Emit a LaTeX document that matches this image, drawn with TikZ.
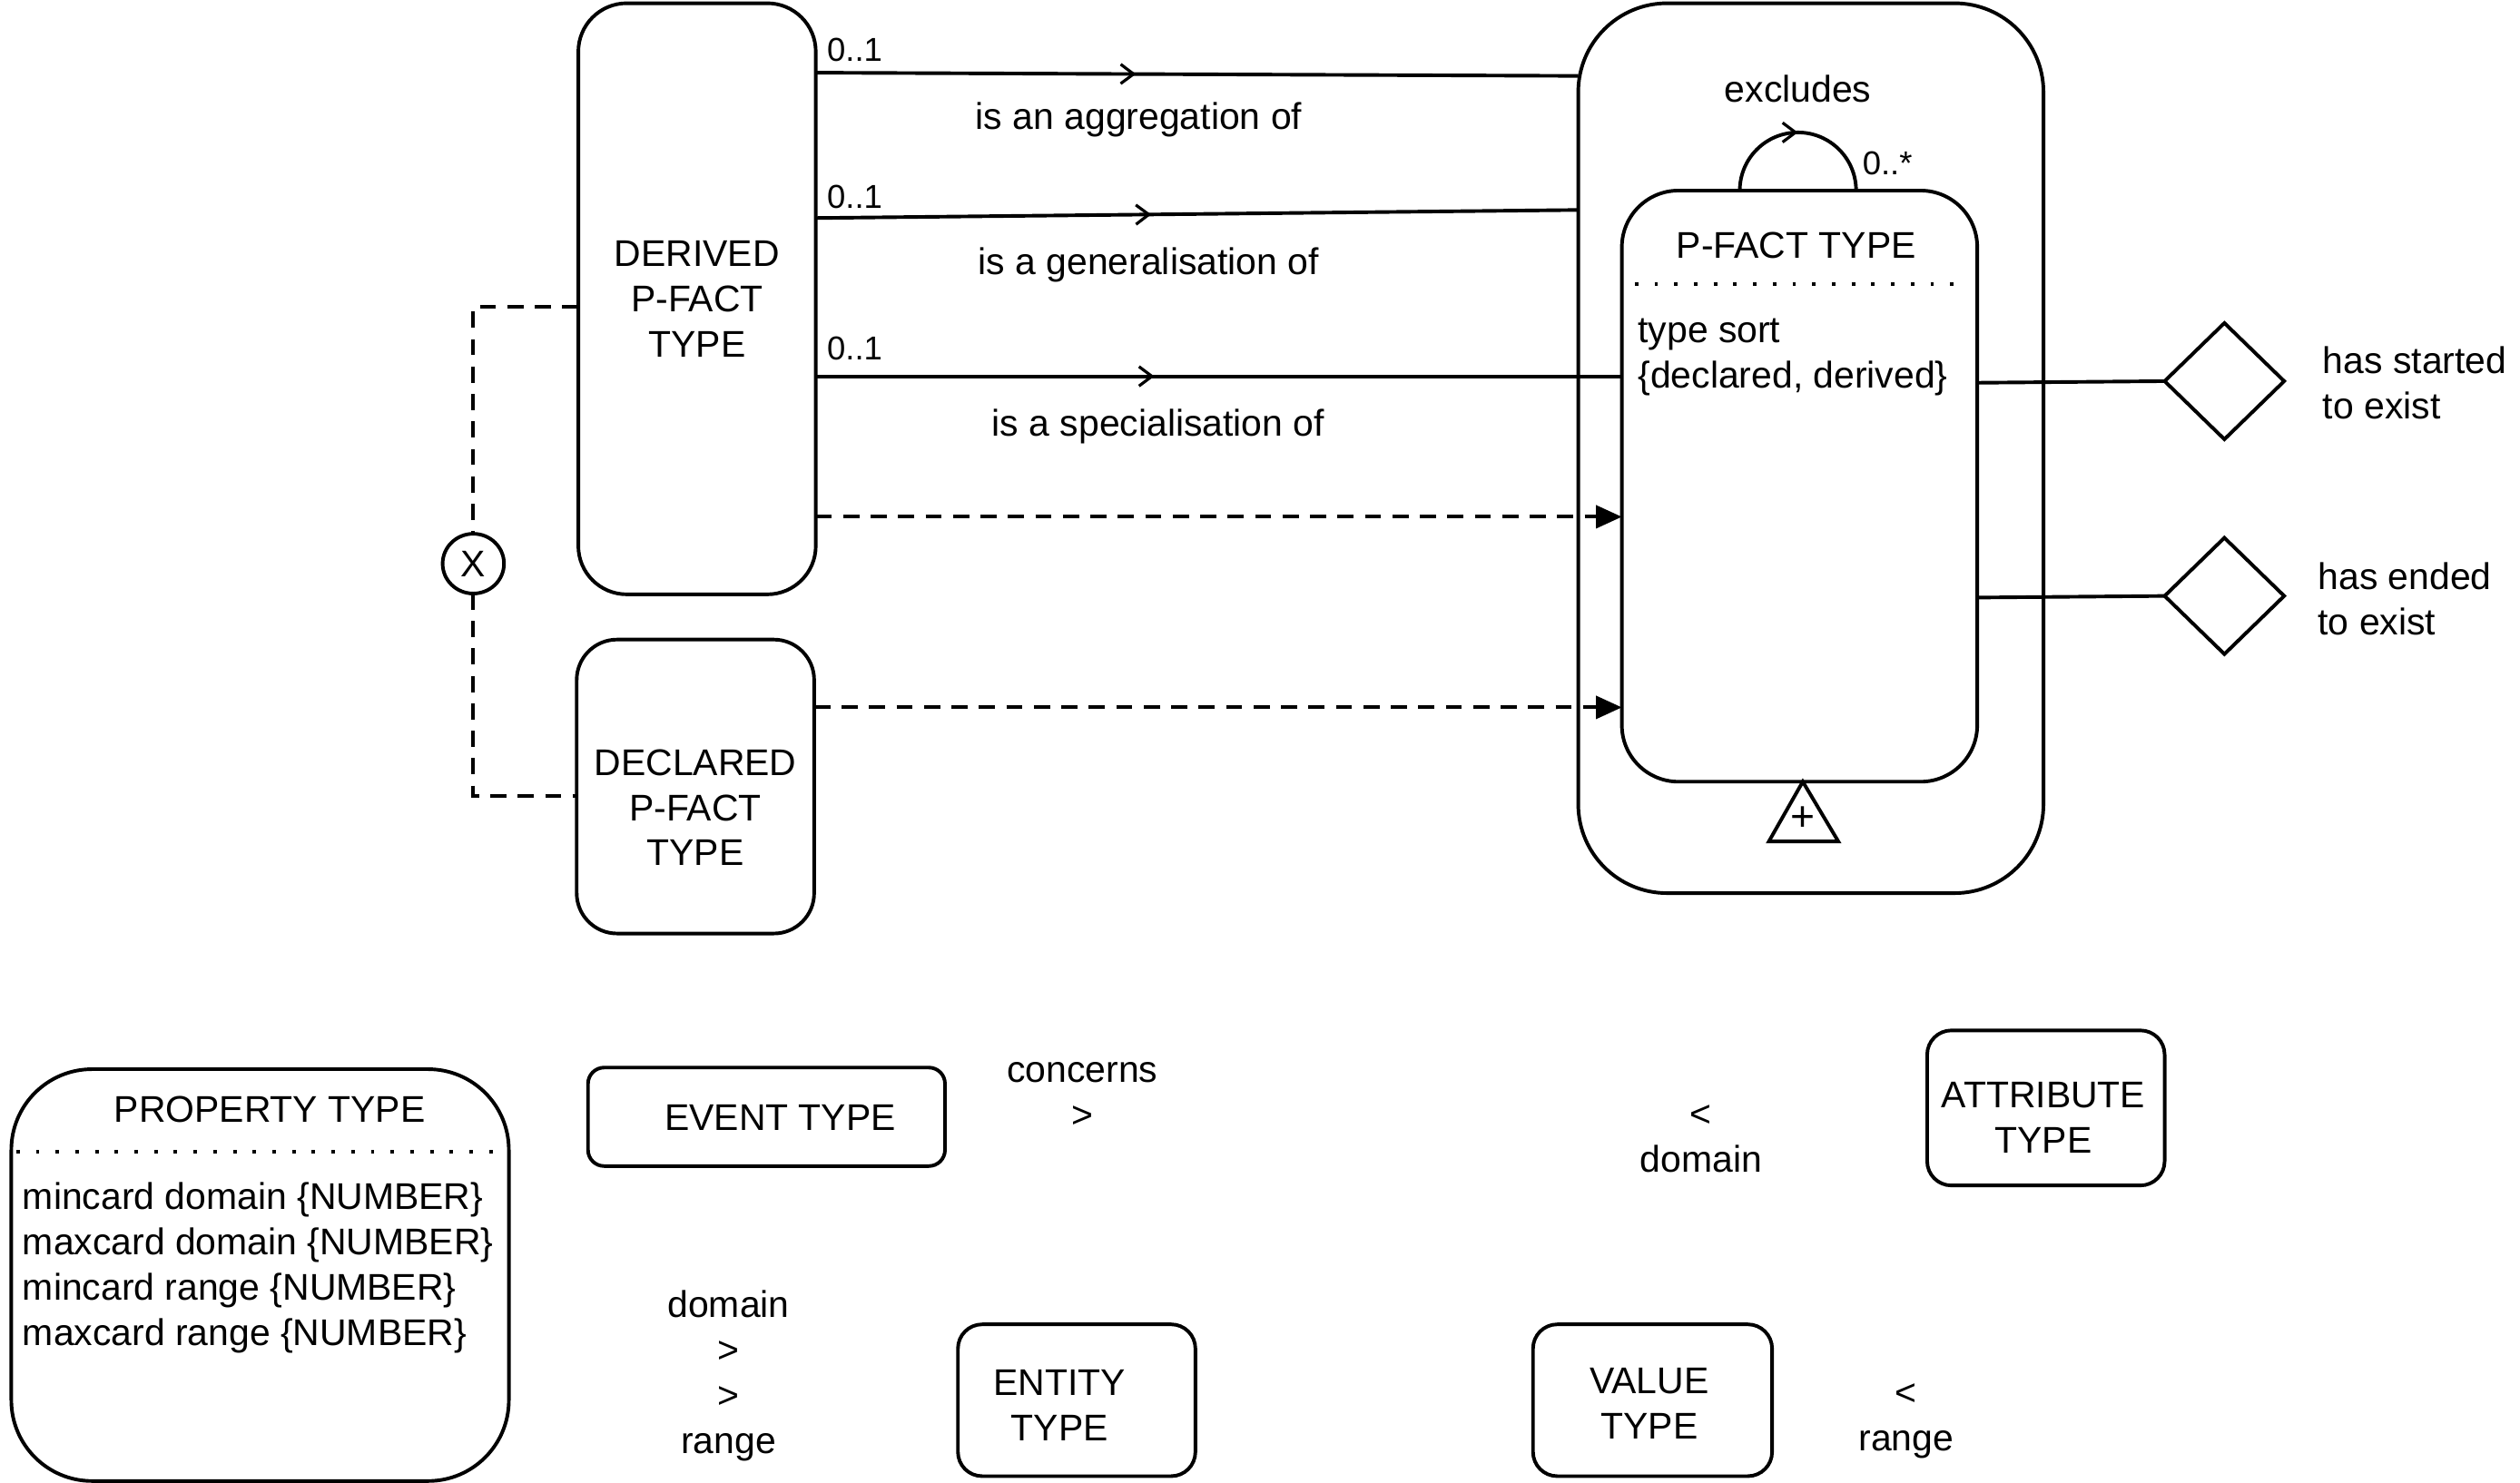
\documentclass[tikz,border=0pt]{standalone}
\usepackage{fontspec}
\setmainfont{Liberation Sans}
\usetikzlibrary{shapes.geometric,arrows.meta,decorations.markings}
\newcommand{\fbig}{\fontsize{23}{28}\selectfont}
\newcommand{\fsmall}{\fontsize{20.5}{24}\selectfont}
\begin{document}
\begin{tikzpicture}[x=1pt,y=-1pt,
 every node/.style={inner sep=0pt, outer sep=0pt},
 box/.style={draw, line width=2.2pt, font=\fbig, align=center},
 txt/.style={font=\fbig, align=center},
 sml/.style={font=\fsmall},
 conn/.style={line width=2.2pt},
 dsh/.style={line width=2.2pt, dash pattern=on 10pt off 7pt},
 chev/.style={decoration={markings, mark=at position #1 with {\arrow{Straight Barb[length=8pt,width=12pt,line width=1.8pt]}}}, postaction={decorate}},
 dia/.style={draw, diamond, line width=2.2pt, minimum width=74pt, minimum height=72pt},
 dots/.style={line width=2.2pt, dash pattern=on 2.2pt off 10pt},
]
\useasboundingbox (0,0) rectangle (1560,918);

% top-left boxes
\node[box, rounded corners=30pt, minimum width=147pt, minimum height=366pt] (der) at (431.5,185) {DERIVED\\P-FACT\\TYPE};
\node[box, rounded corners=25pt, minimum width=147pt, minimum height=182pt] (dec) at (430.5,487) {};
\node[txt] (dect) at (430.5,500) {DECLARED\\P-FACT\\TYPE};
\node[draw, ellipse, line width=2.2pt, minimum width=38pt, minimum height=37pt, font=\fbig] (xc) at (293,349) {X};

\draw[dsh] ([yshift=-5pt]der.west) -| (xc.north);
\draw[dsh] (xc.south) |- ([yshift=-6pt]dec.west);

% P-FACT TYPE
\node[box, rounded corners=55pt, minimum width=288pt, minimum height=551pt] (outer) at (1121,277.5) {};
\node[box, rounded corners=35pt, minimum width=220pt, minimum height=366pt] (pin) at (1114,301) {};
\node[txt] (pint) at (1112,152) {P-FACT TYPE};
\draw[dots] (1012,176) -- (1218,176);
\node[txt, align=left, anchor=west] (pina) at (1014,221) {type sort\\\{declared, derived\}};

\draw[conn, chev=0.5] ([xshift=-37pt]pin.north) arc[start angle=180, end angle=0, radius=36pt];
\node[txt] (excl) at (1113,55) {excludes};
\node[sml, anchor=west] (card4) at (1153,101) {0..*};

\draw[line width=2.2pt] (1116,484) -- (1138,521) -- (1095,521) -- cycle;
\node[txt, font=\fontsize{26}{28}\selectfont] (plus) at (1116,507) {+};

% relations
\draw[conn, chev=0.42] ([yshift=-43pt]der.north east) -- ([yshift=-45pt]outer.north west);
\draw[conn, chev=0.44] ([yshift=-133pt]der.north east) -- ([yshift=-128pt]outer.north west);
\draw[conn, chev=0.42] ([yshift=-231pt]der.north east) -- ([yshift=-115pt]pin.north west);
\node[sml, anchor=west] (c1) at (512,31) {0..1};
\node[sml, anchor=west] (c2) at (512,122) {0..1};
\node[sml, anchor=west] (c3) at (512,216) {0..1};
\node[txt] (l1) at (705,74) {is an aggregation of};
\node[txt] (l2) at (711,164) {is a generalisation of};
\node[txt] (l3) at (717,264) {is a specialisation of};

\draw[dsh, -{Triangle[length=16pt,width=14pt]}] ([yshift=-318pt]der.north east) -- ([yshift=-202pt]pin.north west);
\draw[dsh, -{Triangle[length=16pt,width=14pt]}] ([yshift=-42pt]dec.north east) -- ([yshift=-320pt]pin.north west);

% diamonds
\node[dia] (ds) at (1377,236) {};
\node[dia] (de) at (1377,369) {};
\draw[conn] ([yshift=-119pt]pin.north east) -- (ds.west);
\draw[conn] ([yshift=-252pt]pin.north east) -- (de.west);
\node[txt, align=left, anchor=west] (dsl) at (1438,237) {has started\\to exist};
\node[txt, align=left, anchor=west] (del) at (1435,371) {has ended\\to exist};

% bottom
\node[box, rounded corners=50pt, minimum width=308pt, minimum height=255pt] (prop) at (161,789.5) {};
\node[txt] (propt) at (167,687) {PROPERTY TYPE};
\draw[dots] (10,713) -- (312,713);
\node[txt, align=left, anchor=west] (propa) at (14,785) {mincard domain \{NUMBER\}\\maxcard domain \{NUMBER\}\\mincard range \{NUMBER\}\\maxcard range \{NUMBER\}};

\node[box, rounded corners=10pt, minimum width=221pt, minimum height=61pt] (ev) at (474.5,691.5) {};
\node[txt] (evt) at (483,692) {EVENT TYPE};
\node[txt] (conc) at (670,678) {concerns\\>};

\node[box, rounded corners=15pt, minimum width=147pt, minimum height=96pt] (att) at (1266.5,686) {};
\node[txt] (attt) at (1265,692) {ATTRIBUTE\\TYPE};
\node[txt] (adom) at (1053,705) {<\\domain};

\node[txt] (pdr) at (451,852) {domain\\>\\>\\range};

\node[box, rounded corners=15pt, minimum width=147pt, minimum height=94pt] (ent) at (666.5,867) {};
\node[txt] (entt) at (656,870) {ENTITY\\TYPE};

\node[box, rounded corners=15pt, minimum width=148pt, minimum height=94pt] (val) at (1023,867) {};
\node[txt] (valt) at (1021,869) {VALUE\\TYPE};
\node[txt] (vrng) at (1180,880) {<\\range};
\end{tikzpicture}
\end{document}
